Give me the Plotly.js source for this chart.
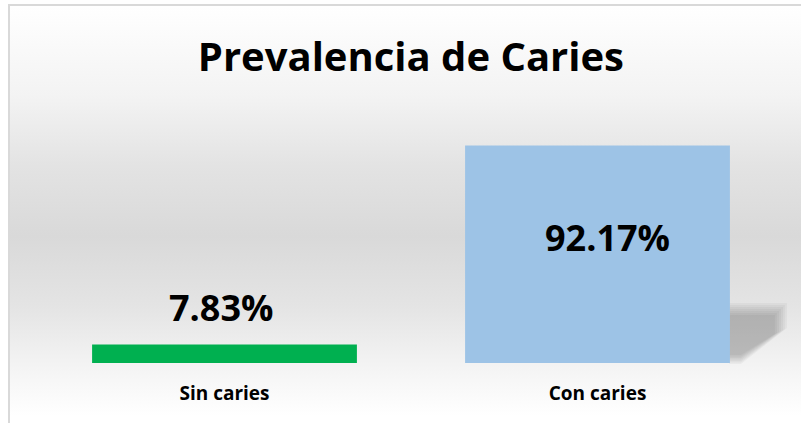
<!DOCTYPE html>
<html>
<head>
<meta charset="utf-8">
<script src="https://cdn.plot.ly/plotly-3.0.1.min.js"></script>
<style>
  html, body { margin: 0; padding: 0; background: #ffffff; }
  #wrap { position: relative; width: 801px; height: 423px; overflow: hidden; background: #ffffff; }
  #frame { position: absolute; left: 8px; top: 4px; width: 820px; height: 440px;
           border-left: 2px solid #d9d9d9; border-top: 2px solid #d9d9d9;
           background: linear-gradient(to bottom, #ffffff 0px, #f3f3f3 90px, #e3e3e3 160px, #d9d9d9 230px, #e4e4e4 300px, #f6f6f6 370px, #ffffff 410px); }
  #chart { position: absolute; left: 0; top: 0; width: 801px; height: 423px; }
</style>
</head>
<body>
<div id="wrap">
  <div id="frame"></div>
  <div id="chart"></div>
</div>
<script>
const categories = ["Sin caries", "Con caries"];
const values = [7.83, 92.17];
const barColors = ["#00B050", "#9DC3E6"];
const chartTitle = "Prevalencia de Caries";

const FONT = "'Open Sans', 'Liberation Sans', sans-serif";

const trace = {
  type: "bar",
  x: categories,
  y: values,
  width: 0.71,
  marker: { color: barColors, line: { width: 0 } },
  hoverinfo: "skip",
  showlegend: false
};

const labelShift = [{ xs: -4, ys: 37 }, { xs: 10, ys: -92 }];
const annotations = categories.map((c, i) => ({
  x: c, y: values[i], xref: "x", yref: "y",
  text: "<b>" + values[i].toFixed(2) + "%</b>",
  showarrow: false, xanchor: "center", yanchor: "middle",
  xshift: labelShift[i].xs, yshift: labelShift[i].ys,
  font: { family: FONT, size: 36, color: "#000000" }
}));

// soft shadow behind the tall bar (decoration)
const L = 38, W = 746, T = 127, H = 236;
function px(x) { return (x - L) / W; }
function py(y) { return (T + H - y) / H; }
function poly(pts) {
  return "M " + pts.map(p => px(p[0]).toFixed(4) + "," + py(p[1]).toFixed(4)).join(" L ") + " Z";
}
const shapes = [];
for (let k = 0; k < 7; k++) {
  const top = 303 + k * 2;
  const right = 787 - k * 2;
  const bot = 364 - k * 1.5;
  shapes.push({
    type: "path", xref: "paper", yref: "paper", layer: "below",
    path: poly([[729, top], [right, top], [right, 328 + k], [right - 46 + k * 2, bot], [729, bot]]),
    fillcolor: "rgba(0,0,0,0.035)", line: { width: 0 }
  });
}

const layout = {
  width: 801, height: 423,
  margin: { l: 38, r: 17, t: 127, b: 60 },
  paper_bgcolor: "rgba(0,0,0,0)",
  plot_bgcolor: "rgba(0,0,0,0)",
  title: {
    text: "<b>" + chartTitle + "</b>",
    font: { family: FONT, size: 40, color: "#000000" },
    x: 0.513, xanchor: "center", y: 0.865, yanchor: "middle"
  },
  xaxis: {
    type: "category", range: [-0.5, 1.5],
    tickvals: categories,
    ticktext: categories.map(c => "<b>" + c + "</b>"),
    showgrid: false, zeroline: false, showline: false, ticks: "",
    tickfont: { family: FONT, size: 19, color: "#000000" },
    ticklabelstandoff: 17
  },
  yaxis: {
    range: [0, 100], visible: false, showgrid: false, zeroline: false
  },
  bargap: 0.29,
  annotations: annotations,
  shapes: shapes
};

Plotly.newPlot("chart", [trace], layout, { displayModeBar: false, staticPlot: true });
</script>
</body>
</html>
